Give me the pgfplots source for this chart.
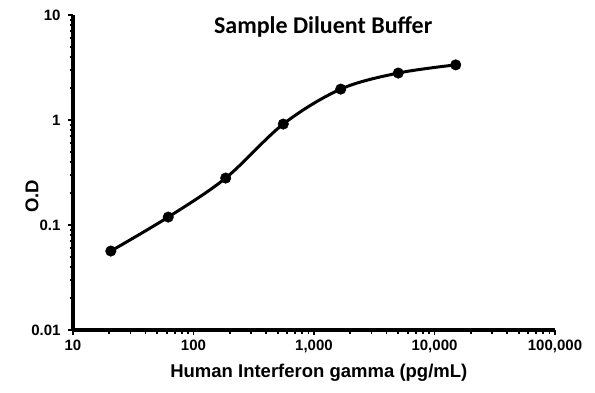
\documentclass[border=0pt]{standalone}
\usepackage{pgfplots}
\pgfplotsset{compat=1.18}
\usepackage{fontspec}
\setmainfont{Liberation Sans}
\newfontfamily\calibri{Carlito}
\begin{document}
\begin{tikzpicture}
\begin{axis}[
  at={(0pt,0pt)}, anchor=south west,
  scale only axis, width=482pt, height=315pt,
  xmode=log, ymode=log,
  xmin=10, xmax=100000, ymin=0.01, ymax=10,
  axis x line*=bottom, axis y line*=left,
  every outer x axis line/.append style={line width=3.4pt, black},
  every outer y axis line/.append style={line width=3.4pt, black},
  axis line style={line width=3.4pt, black},
  tick align=outside,
  major tick length=5pt, minor tick length=3.5pt,
  tick style={black, line width=1.8pt},
  xtick={10,100,1000,10000,100000},
  xticklabels={10,100,{1,000},{10,000},{100,000}},
  ytick={0.01,0.1,1,10},
  yticklabels={0.01,0.1,1,10},
  tick label style={font=\fontsize{15}{17}\selectfont\bfseries},
  xticklabel style={yshift=-1pt},
  yticklabel style={xshift=-4pt},
  xlabel={Human Interferon gamma (pg/mL)},
  ylabel={O.D},
  label style={font=\fontsize{18.5}{20}\selectfont\bfseries},
  xlabel style={at={(axis description cs:0.51,0)}, anchor=center, yshift=-43pt},
  ylabel style={at={(axis description cs:0,0.425)}, anchor=center, yshift=41pt},
  clip=false,
]
\addplot[black, line width=3pt, smooth, tension=0.55, mark=*, mark size=5.3pt,
  mark options={fill=black, line width=0.4pt}]
  coordinates {
  (20.6,0.0565) (61.7,0.119) (185,0.28) (556,0.915) (1667,1.97) (5000,2.8) (15000,3.35)
  };
\node[font=\calibri\fontsize{24}{26}\selectfont\bfseries, anchor=center]
  at (axis description cs:0.519,0.962) {Sample Diluent Buffer};
\end{axis}
\path (-73pt,-62pt) rectangle (522pt,330pt);
\end{tikzpicture}
\end{document}
